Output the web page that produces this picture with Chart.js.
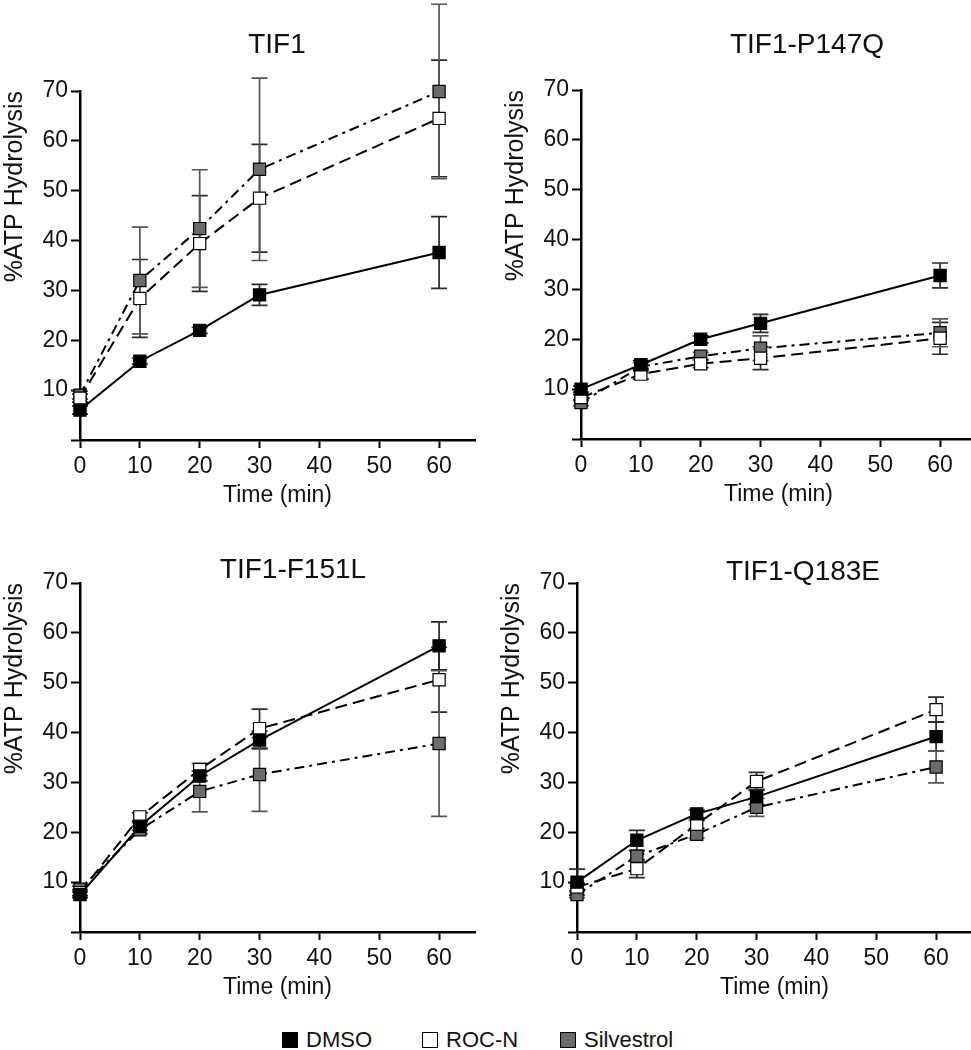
<!DOCTYPE html>
<html>
<head>
<meta charset="utf-8">
<script src="https://cdn.jsdelivr.net/npm/chart.js@4.4.1/dist/chart.umd.min.js"></script>
<style>
    body { margin: 0; background: #fff; }
    #page { position: relative; width: 971px; height: 1050px; overflow: hidden; background: #fff; }
    #page canvas { position: absolute; }
    #p1 { left: 0; top: 1px; }
    #p2 { left: 501px; top: 0; }
    #p3 { left: 0; top: 493px; }
    #p4 { left: 497px; top: 493px; }
    .legend { position: absolute; top: 1027px; left: 282px; display: flex; font: 22px "Liberation Sans", Arial, sans-serif; color: #111; }
    .legend .item { display: flex; align-items: center; }
    .legend .item:nth-child(1) { width: 140px; }
    .legend .item:nth-child(2) { width: 138px; }
    .legend .box { width: 14px; height: 14px; border: 1.5px solid #000; margin-right: 8px; }
</style>
</head>
<body>
<div id="page">
    <canvas id="p1" width="485" height="508"></canvas>
    <canvas id="p2" width="485" height="508"></canvas>
    <canvas id="p3" width="485" height="508"></canvas>
    <canvas id="p4" width="485" height="508"></canvas>
    <div class="legend">
        <div class="item"><span class="box" style="background:#000"></span>DMSO</div>
        <div class="item"><span class="box" style="background:#fff"></span>ROC-N</div>
        <div class="item"><span class="box" style="background:#6b6b6b"></span>Silvestrol</div>
    </div>
</div>
<script>
// time points (min) and axis ticks
const times = [0, 10, 20, 30, 60];
const xTicks = [0, 10, 20, 30, 40, 50, 60];
const yTicks = [0, 10, 20, 30, 40, 50, 60, 70];
const seriesNames = ['DMSO', 'ROC-N', 'Silvestrol'];

// TIF1
const tif1Dmso = [6.0, 15.8, 22.0, 29.1, 37.6];
const tif1DmsoErr = [0.8, 0.6, 0.6, 2.1, 7.2];
const tif1Rocn = [8.4, 28.4, 39.4, 48.5, 64.5];
const tif1RocnErr = [0.8, 7.8, 9.6, 10.8, 11.7];
const tif1Silv = [9.0, 32.0, 42.4, 54.3, 69.9];
const tif1SilvErr = [0.8, 10.7, 11.8, 18.3, 17.5];

// TIF1-P147Q
const p147qDmso = [10.0, 14.9, 20.0, 23.2, 32.8];
const p147qDmsoErr = [0.6, 0.8, 0.7, 1.8, 2.5];
const p147qRocn = [8.3, 13.0, 15.1, 16.2, 20.2];
const p147qRocnErr = [0.6, 1.0, 0.8, 2.3, 3.2];
const p147qSilv = [7.3, 14.5, 16.6, 18.2, 21.3];
const p147qSilvErr = [0.6, 0.8, 0.8, 2.5, 2.8];

// TIF1-F151L
const f151lDmso = [7.5, 21.2, 31.3, 38.5, 57.4];
const f151lDmsoErr = [0.6, 0.8, 1.0, 1.8, 4.8];
const f151lRocn = [7.9, 23.1, 32.6, 40.8, 50.6];
const f151lRocnErr = [0.6, 0.8, 1.2, 3.9, 6.5];
const f151lSilv = [8.6, 20.5, 28.2, 31.6, 37.8];
const f151lSilvErr = [0.6, 0.8, 4.1, 7.4, 14.6];

// TIF1-Q183E
const q183eDmso = [10.0, 18.4, 23.7, 27.1, 39.2];
const q183eDmsoErr = [2.6, 2.0, 0.8, 1.5, 2.9];
const q183eRocn = [9.0, 12.7, 21.6, 30.2, 44.6];
const q183eRocnErr = [0.8, 1.8, 0.8, 1.8, 2.5];
const q183eSilv = [7.5, 15.2, 19.6, 25.0, 33.1];
const q183eSilvErr = [0.6, 1.0, 0.8, 1.8, 3.2];

const FONT = '"Liberation Sans", Arial, sans-serif';
const TEXT = '#111';

// draw mean +/- error whiskers behind the lines
const errorBars = {
    id: 'errorBars',
    beforeDatasetsDraw(chart) {
        const { ctx, scales: { x, y } } = chart;
        chart.data.datasets.forEach((ds, i) => {
            ctx.save();
            ctx.strokeStyle = ds.errorColor;
            ctx.lineWidth = 1.7;
            ds.data.forEach((p, j) => {
                const e = ds.errors[j];
                const px = x.getPixelForValue(p.x);
                const top = y.getPixelForValue(p.y + e);
                const bot = y.getPixelForValue(p.y - e);
                ctx.beginPath();
                ctx.moveTo(px, top); ctx.lineTo(px, bot);
                ctx.moveTo(px - 8, top); ctx.lineTo(px + 8, top);
                ctx.moveTo(px - 8, bot); ctx.lineTo(px + 8, bot);
                ctx.stroke();
            });
            ctx.restore();
        });
    }
};

// panel heading, placed freely so it does not take layout space
const panelTitle = {
    id: 'panelTitle',
    afterDraw(chart, args, opts) {
        const ctx = chart.ctx;
        ctx.save();
        ctx.font = '28px ' + FONT;
        ctx.fillStyle = TEXT;
        ctx.textAlign = 'center';
        ctx.textBaseline = 'middle';
        ctx.fillText(opts.text, opts.x, opts.y);
        ctx.restore();
    }
};

Chart.register(errorBars, panelTitle);

function series(label, values, errs, fill, dash, errColor) {
    return {
        label: label,
        data: times.map((t, i) => ({ x: t, y: values[i] })),
        errors: errs,
        errorColor: errColor,
        borderColor: '#000',
        borderWidth: 2,
        borderDash: dash,
        tension: 0,
        fill: false,
        clip: false,
        pointStyle: 'rect',
        pointRadius: 8.6,
        pointBorderWidth: 1.2,
        pointBorderColor: '#000',
        pointBackgroundColor: fill
    };
}

function makePanel(id, title, titleX, titleY, dmso, dmsoErr, rocn, rocnErr, silv, silvErr) {
    const ctx = document.getElementById(id).getContext('2d');
    return new Chart(ctx, {
        type: 'line',
        data: {
            datasets: [
                series(seriesNames[0], dmso, dmsoErr, '#000', [], '#2a2a2a'),
                series(seriesNames[1], rocn, rocnErr, '#fff', [12, 6], '#2a2a2a'),
                series(seriesNames[2], silv, silvErr, '#6b6b6b', [10, 5, 3, 5], '#555')
            ]
        },
        options: {
            responsive: false,
            animation: false,
            layout: { padding: { top: 90, left: 0, right: 10, bottom: 0 } },
            plugins: {
                legend: { display: false },
                tooltip: { enabled: false },
                panelTitle: { text: title, x: titleX, y: titleY }
            },
            scales: {
                x: {
                    type: 'linear',
                    min: 0,
                    max: 66,
                    afterBuildTicks: s => { s.ticks = xTicks.map(v => ({ value: v })); },
                    afterFit: s => { s.height = 69; },
                    border: { display: true, color: '#000', width: 2.5 },
                    grid: { drawOnChartArea: false, drawTicks: true, tickLength: 8, tickWidth: 2, tickColor: '#000', color: '#000' },
                    ticks: { color: TEXT, font: { family: FONT, size: 23 }, padding: 5, maxRotation: 0 },
                    title: { display: true, text: 'Time (min)', color: TEXT, font: { family: FONT, size: 23 }, padding: 0 }
                },
                y: {
                    type: 'linear',
                    min: 0,
                    max: 70,
                    afterBuildTicks: s => { s.ticks = yTicks.map(v => ({ value: v })); },
                    afterFit: s => { s.width = 80; },
                    border: { display: true, color: '#000', width: 2.5 },
                    grid: { drawOnChartArea: false, drawTicks: true, tickLength: 9, tickWidth: 2, tickColor: '#000', color: '#000' },
                    ticks: {
                        color: TEXT,
                        font: { family: FONT, size: 23 },
                        padding: 3,
                        callback: v => (v === 0 ? '' : v)
                    },
                    title: { display: true, text: '%ATP Hydrolysis', align: 'end', color: TEXT, font: { family: FONT, size: 25 }, padding: 0 }
                }
            }
        }
    });
}

document.addEventListener('DOMContentLoaded', function() {
    makePanel('p1', 'TIF1', 277, 44, tif1Dmso, tif1DmsoErr, tif1Rocn, tif1RocnErr, tif1Silv, tif1SilvErr);
    makePanel('p2', 'TIF1-P147Q', 306, 45, p147qDmso, p147qDmsoErr, p147qRocn, p147qRocnErr, p147qSilv, p147qSilvErr);
    makePanel('p3', 'TIF1-F151L', 293, 77, f151lDmso, f151lDmsoErr, f151lRocn, f151lRocnErr, f151lSilv, f151lSilvErr);
    makePanel('p4', 'TIF1-Q183E', 306, 79, q183eDmso, q183eDmsoErr, q183eRocn, q183eRocnErr, q183eSilv, q183eSilvErr);
});
</script>
</body>
</html>
